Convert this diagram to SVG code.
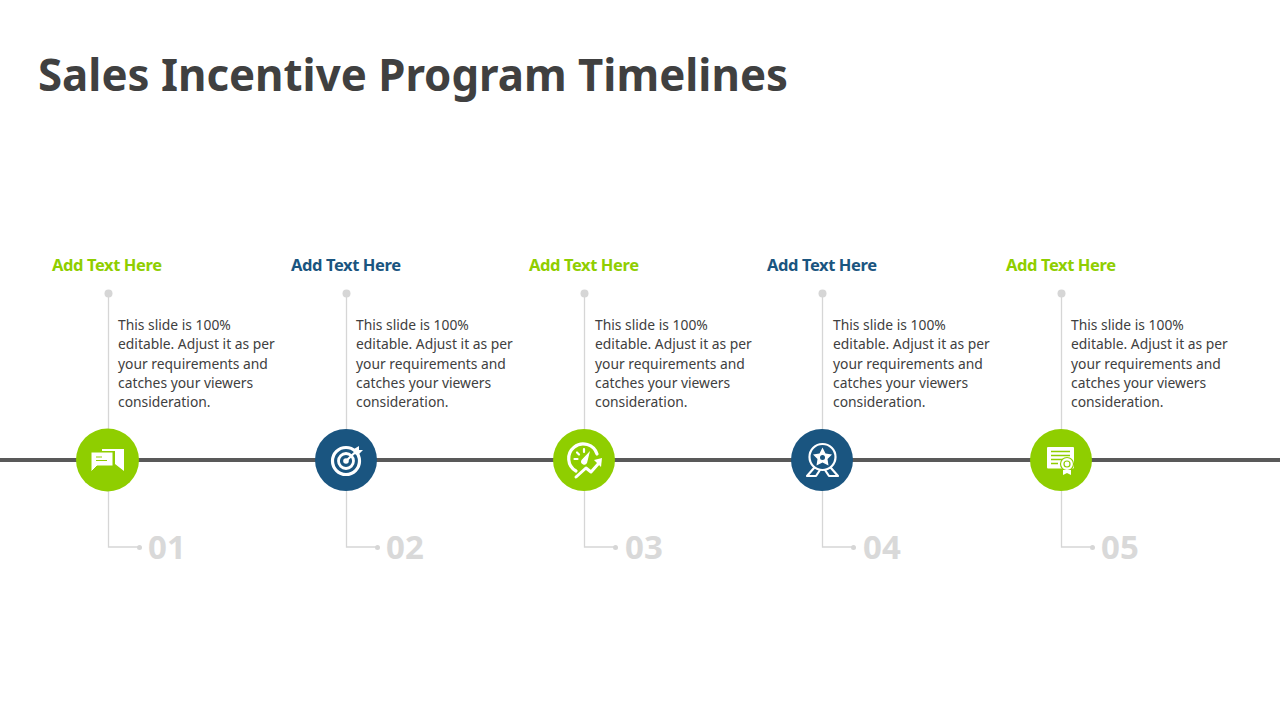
<svg xmlns="http://www.w3.org/2000/svg" width="1280" height="720" viewBox="0 0 1280 720">
<style>
text{font-family:"Noto Sans","Open Sans","Liberation Sans",sans-serif}
.title{font-size:45.500px;font-weight:700;fill:#404040}
.head{font-size:16.500px;font-weight:700}
.g{fill:#8fce00}.b{fill:#1a5580}
.body{font-size:13.850px;fill:#404040}
.num{font-size:33px;font-weight:700;fill:#d9d9d9}
.lead{fill:none;stroke:#d6d6d6;stroke-width:1.300}
.dot{fill:#d6d6d6}
.w{fill:#fff}
.wl{fill:none;stroke:#fff;stroke-linecap:round;stroke-linejoin:round}
</style>
<rect width="1280" height="720" fill="#fff"/>
<text class="title" x="38" y="91" textLength="750" lengthAdjust="spacingAndGlyphs">Sales Incentive Program Timelines</text>
<g id="connectors">
<line x1="0" y1="460" x2="1280" y2="460" stroke="#595959" stroke-width="4"/>
<path class="lead" d="M108.500 293V547H138"/><circle class="dot" cx="108.500" cy="293.500" r="4"/><circle class="dot" cx="139.500" cy="547.500" r="2.500"/>
<path class="lead" d="M346.500 293V547H376"/><circle class="dot" cx="346.500" cy="293.500" r="4"/><circle class="dot" cx="377.500" cy="547.500" r="2.500"/>
<path class="lead" d="M584.500 293V547H614"/><circle class="dot" cx="584.500" cy="293.500" r="4"/><circle class="dot" cx="615.500" cy="547.500" r="2.500"/>
<path class="lead" d="M822.500 293V547H852"/><circle class="dot" cx="822.500" cy="293.500" r="4"/><circle class="dot" cx="853.500" cy="547.500" r="2.500"/>
<path class="lead" d="M1061.500 293V547H1091"/><circle class="dot" cx="1061.500" cy="293.500" r="4"/><circle class="dot" cx="1092.500" cy="547.500" r="2.500"/>
</g>
<g id="node1">
<circle class="g" cx="107.500" cy="460" r="31.500"/>
<path class="w" d="M102 449H124V471L115 464V451H102Z"/>
<path class="w" stroke="#8fce00" stroke-width="1" d="M91 452H113V466H97L91 472Z"/>
<path d="M96 457H102M96 460.500H107" stroke="#8fce00" stroke-width="1"/>
<text class="head g" x="52" y="270.500" textLength="110">Add Text Here</text>
<text class="body"><tspan x="118" y="330">This slide is 100%</tspan><tspan x="118" y="349">editable. Adjust it as per</tspan><tspan x="118" y="368.500">your requirements and</tspan><tspan x="118" y="388">catches your viewers</tspan><tspan x="118" y="407">consideration.</tspan></text>
<text class="num" x="148" y="559">01</text>
</g>
<g id="node2">
<circle class="b" cx="346" cy="460" r="31"/>
<circle class="wl" cx="346" cy="461" r="13.500" stroke-width="3.200"/>
<circle class="wl" cx="346" cy="461" r="7.500" stroke-width="2.800"/>
<circle class="w" cx="346" cy="461" r="2.800"/>
<path class="wl" stroke-width="2.200" d="M346 461L357 450.500"/>
<path class="w" d="M354 449L359 446L359 450L363 450L358 455L354 454Z"/>
<text class="head b" x="291" y="270.500" textLength="110">Add Text Here</text>
<text class="body"><tspan x="356" y="330">This slide is 100%</tspan><tspan x="356" y="349">editable. Adjust it as per</tspan><tspan x="356" y="368.500">your requirements and</tspan><tspan x="356" y="388">catches your viewers</tspan><tspan x="356" y="407">consideration.</tspan></text>
<text class="num" x="386" y="559">02</text>
</g>
<g id="node3">
<circle class="g" cx="584" cy="460" r="31"/>
<path class="wl" stroke-width="3.200" d="M576 471A14.500 14.500 0 1 1 597 454"/>
<path class="wl" stroke-width="2.200" d="M584 449V452M574.500 459H577.500M577 452.500L579 454.500"/>
<path class="w" d="M590 451L587 463A3 3 0 0 1 581.500 460Z"/>
<path class="wl" stroke-width="3" d="M576 477L586 468L591 472L599 463"/>
<path class="w" d="M594 460L602 458L601 467Z"/>
<text class="head g" x="529" y="270.500" textLength="110">Add Text Here</text>
<text class="body"><tspan x="595" y="330">This slide is 100%</tspan><tspan x="595" y="349">editable. Adjust it as per</tspan><tspan x="595" y="368.500">your requirements and</tspan><tspan x="595" y="388">catches your viewers</tspan><tspan x="595" y="407">consideration.</tspan></text>
<text class="num" x="625" y="559">03</text>
</g>
<g id="node4">
<circle class="b" cx="822" cy="460" r="31"/>
<circle class="wl" cx="822.500" cy="457" r="13" stroke-width="2.200"/>
<path class="w" d="M822.500 447.500L825.500 453.500L832 454.500L827.500 459L828.500 465.500L822.500 462.500L816.500 465.500L817.500 459L813 454.500L819.500 453.500Z"/>
<circle class="b" cx="822.500" cy="457.500" r="2.500"/>
<path class="wl" stroke-width="2.200" d="M814 468L807 476H816L820 470M831 468L838 476H829L825 470"/>
<text class="head b" x="767" y="270.500" textLength="110">Add Text Here</text>
<text class="body"><tspan x="833" y="330">This slide is 100%</tspan><tspan x="833" y="349">editable. Adjust it as per</tspan><tspan x="833" y="368.500">your requirements and</tspan><tspan x="833" y="388">catches your viewers</tspan><tspan x="833" y="407">consideration.</tspan></text>
<text class="num" x="863" y="559">04</text>
</g>
<g id="node5">
<circle class="g" cx="1061" cy="460" r="31"/>
<rect class="w" x="1047" y="447" width="27" height="21.500" rx="1"/>
<path stroke="#8fce00" stroke-width="1.300" fill="none" d="M1051 451.500H1070M1051 455.500H1070M1051 459.500H1070M1051 463.500H1058"/>
<circle class="w" stroke="#8fce00" stroke-width="1.200" cx="1067" cy="464" r="6.500"/>
<circle fill="none" stroke="#8fce00" stroke-width="1.200" cx="1067" cy="464" r="3"/>
<path class="w" d="M1063 470H1071V475L1067 473L1063 475Z"/>
<text class="head g" x="1006" y="270.500" textLength="110">Add Text Here</text>
<text class="body"><tspan x="1071" y="330">This slide is 100%</tspan><tspan x="1071" y="349">editable. Adjust it as per</tspan><tspan x="1071" y="368.500">your requirements and</tspan><tspan x="1071" y="388">catches your viewers</tspan><tspan x="1071" y="407">consideration.</tspan></text>
<text class="num" x="1101" y="559">05</text>
</g>
</svg>
